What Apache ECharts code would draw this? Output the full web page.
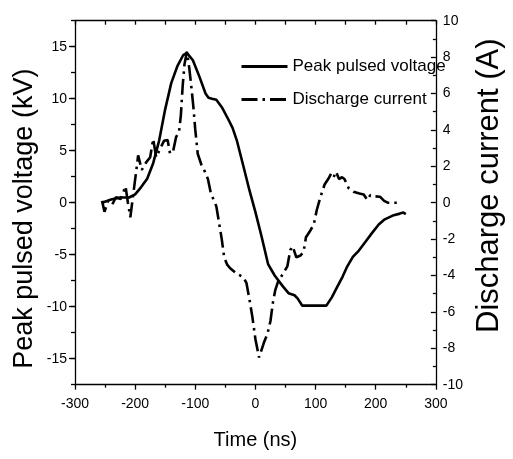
<!DOCTYPE html>
<html>
<head>
<meta charset="utf-8">
<script src="https://cdn.jsdelivr.net/npm/echarts@6/dist/echarts.min.js"></script>
<style>
  html, body { margin: 0; padding: 0; background: #fff; }
  #chart { width: 513px; height: 459px; }
</style>
</head>
<body>
<div id="chart"></div>
<script>
// Peak pulsed voltage (kV) vs time (ns)
const timeV = [-255, -240, -225, -210, -200, -190, -180, -170, -160, -150, -140, -130, -120, -114, -104, -93, -83, -78, -72, -65, -55, -45, -38, -31, -20, -10, 0, 10, 21, 32, 45, 55, 65, 70, 78, 100, 118, 127, 136, 145, 152, 162, 172, 183, 194, 205, 215, 230, 240, 246, 250];
const voltage = [0, 0.3, 0.5, 0.5, 0.8, 1.5, 2.3, 3.8, 6.0, 9.0, 11.5, 13.1, 14.2, 14.4, 13.7, 12.1, 10.5, 10.1, 10.0, 9.9, 9.1, 8.0, 7.2, 6.0, 3.5, 1.2, -0.9, -3.2, -5.9, -7.0, -8.0, -8.7, -8.9, -9.2, -9.9, -9.9, -9.9, -9.1, -8.1, -7.1, -6.2, -5.2, -4.6, -3.75, -2.9, -2.1, -1.6, -1.2, -1.05, -0.95, -1.1];

// Discharge current (A) vs time (ns)
const timeI = [-255, -251, -245, -238, -232, -224, -216, -212, -208, -203, -198, -195, -189, -182, -175, -170, -165, -158, -152, -146, -142, -137, -132, -127, -124, -121, -118, -114, -110, -106, -103, -100, -96, -90, -84, -79, -74, -70, -65, -60, -56, -52, -47, -42, -31, -20, -15, -10, -5, 0, 6, 14, 20, 25, 29, 33, 38, 46, 53, 58, 62, 68, 75, 80, 84, 90, 97, 102, 108, 115, 121, 126, 130, 134, 139, 144, 148, 155, 163, 173, 180, 186, 191, 198, 207, 214, 220, 241];
const current = [0.1, -0.5, 0.1, -0.1, 0.3, 0.2, 0.9, 0.0, -0.8, 0.5, 1.8, 2.6, 1.8, 2.2, 2.5, 3.5, 2.5, 3.0, 3.4, 3.45, 2.7, 2.8, 3.6, 3.9, 4.8, 6.4, 7.6, 8.3, 7.4, 6.2, 5.2, 4.0, 2.7, 2.1, 1.7, 1.3, 0.5, 0.2, -0.2, -1.2, -2.0, -3.0, -3.4, -3.6, -3.9, -4.1, -4.4, -5.3, -6.3, -7.5, -8.5, -7.7, -7.2, -6.5, -5.5, -4.8, -4.3, -3.9, -3.5, -2.6, -2.4, -3.0, -2.9, -2.7, -1.9, -1.6, -1.2, -0.4, 0.3, 1.0, 1.3, 1.6, 1.4, 1.7, 1.3, 1.4, 1.3, 0.8, 0.6, 0.5, 0.45, 0.15, 0.42, 0.35, 0.33, 0.1, 0.0, 0.0];

const seriesNames = ['Peak pulsed voltage', 'Discharge current'];
const xTitle = 'Time (ns)';
const yLeftTitle = 'Peak pulsed voltage (kV)';
const yRightTitle = 'Discharge current (A)';

const FONT = "'Liberation Sans', Arial, sans-serif";
const chart = echarts.init(document.getElementById('chart'), null, { renderer: 'canvas' });

const gridMain = { left: 75, right: 55.3, top: 20.7, bottom: 74.3 };
// overlay grid for left major ticks (-15..15)
const gridMajor = { left: 75, right: 55.3, top: 46.7, bottom: 100.3 };

const axisLineStyle = { color: '#000', width: 1.3 };
const labelStyle = { color: '#000', fontSize: 14, fontFamily: FONT };

chart.setOption({
  backgroundColor: '#fff',
  animation: false,
  grid: [gridMain, gridMajor],
  legend: {
    data: seriesNames,
    orient: 'vertical',
    left: 235,
    top: 53,
    itemWidth: 46,
    itemHeight: 19,
    itemGap: 16,
    itemStyle: { color: 'rgba(0,0,0,0)', borderWidth: 0, opacity: 0 },
    lineStyle: { width: 3 },
    textStyle: { color: '#000', fontSize: 17, fontFamily: FONT }
  },
  xAxis: [
    {
      type: 'value', gridIndex: 0, position: 'bottom',
      min: -300, max: 300, interval: 100,
      name: xTitle, nameLocation: 'middle', nameGap: 46,
      nameTextStyle: { color: '#000', fontSize: 20, fontFamily: FONT },
      axisLine: { show: true, onZero: false, lineStyle: axisLineStyle },
      axisTick: { show: true, inside: false, length: 5, lineStyle: axisLineStyle },
      minorTick: { show: true, splitNumber: 2, length: 3, lineStyle: axisLineStyle },
      axisLabel: Object.assign({ margin: 12 }, labelStyle),
      splitLine: { show: false }
    },
    {
      type: 'value', gridIndex: 0, position: 'top',
      min: -300, max: 300, interval: 100,
      axisLine: { show: true, onZero: false, lineStyle: axisLineStyle },
      axisTick: { show: true, inside: true, length: 4, lineStyle: axisLineStyle },
      minorTick: { show: true, splitNumber: 2, length: 4, lineStyle: axisLineStyle },
      axisLabel: { show: false },
      splitLine: { show: false }
    },
    {
      type: 'value', gridIndex: 1, min: -300, max: 300, show: false
    }
  ],
  yAxis: [
    {
      type: 'value', gridIndex: 0, position: 'left',
      min: -17.5, max: 17.5, interval: 2.5,
      name: yLeftTitle, nameLocation: 'middle', nameGap: 37,
      nameTextStyle: { color: '#000', fontSize: 27, fontFamily: FONT, padding: [0, 32, 0, 0] },
      axisLine: { show: true, onZero: false, lineStyle: axisLineStyle },
      axisTick: { show: true, inside: false, length: 4, lineStyle: axisLineStyle },
      axisLabel: { show: false },
      splitLine: { show: false }
    },
    {
      type: 'value', gridIndex: 0, position: 'right',
      min: -10, max: 10, interval: 2,
      name: yRightTitle, nameLocation: 'middle', nameGap: 28,
      nameTextStyle: { color: '#000', fontSize: 31, fontFamily: FONT, padding: [0, 0, 0, 34] },
      axisLine: { show: true, onZero: false, lineStyle: axisLineStyle },
      axisTick: { show: true, inside: true, length: 5, lineStyle: axisLineStyle },
      minorTick: { show: true, splitNumber: 2, length: 3, lineStyle: axisLineStyle },
      axisLabel: Object.assign({ margin: 7 }, labelStyle),
      splitLine: { show: false }
    },
    {
      type: 'value', gridIndex: 1, position: 'left',
      min: -15, max: 15, interval: 5,
      axisLine: { show: false, onZero: false },
      axisTick: { show: true, inside: false, length: 6, lineStyle: axisLineStyle },
      axisLabel: Object.assign({ margin: 8 }, labelStyle),
      splitLine: { show: false }
    }
  ],
  series: [
    {
      name: seriesNames[0], type: 'line', xAxisIndex: 0, yAxisIndex: 0,
      data: timeV.map((t, i) => [t, voltage[i]]),
      symbol: 'none', smooth: false,
      lineStyle: { color: '#000', width: 2.6, type: 'solid' },
      itemStyle: { color: '#000' }
    },
    {
      name: seriesNames[1], type: 'line', xAxisIndex: 0, yAxisIndex: 1,
      data: timeI.map((t, i) => [t, current[i]]),
      symbol: 'none', smooth: false,
      lineStyle: { color: '#000', width: 2.6, type: [16, 5, 2.5, 5] },
      itemStyle: { color: '#000' }
    }
  ]
});
</script>
</body>
</html>
